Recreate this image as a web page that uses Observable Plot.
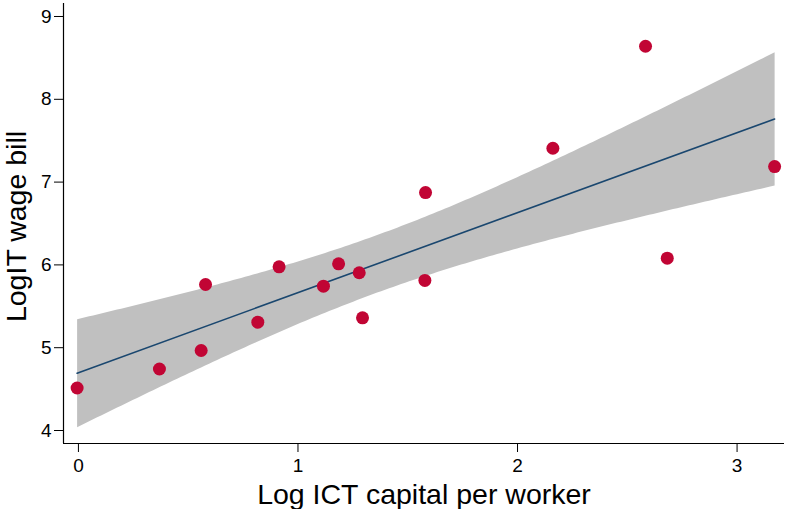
<!DOCTYPE html>
<html>
<head>
<meta charset="utf-8">
<script src="https://cdn.jsdelivr.net/npm/d3@7"></script>
<script src="https://cdn.jsdelivr.net/npm/@observablehq/plot@0.6"></script>
<style>
  html, body { margin: 0; padding: 0; background: #fff; }
  #chart { width: 786px; height: 509px; }
</style>
</head>
<body>
<div id="chart"></div>
<script>
// Data
const ictCapital = [-0.006, 0.369, 0.559, 0.579, 0.817, 0.914, 1.116, 1.185, 1.279, 1.294, 1.578, 1.581, 2.161, 2.583, 2.682, 3.171];
const itWageBill = [4.513, 4.743, 4.966, 5.763, 5.308, 5.977, 5.743, 6.013, 5.905, 5.361, 5.812, 6.874, 7.409, 8.641, 6.081, 7.188];
const xTicks = [0, 1, 2, 3];
const yTicks = [4, 5, 6, 7, 8, 9];
const xDomain = [-0.068, 3.216];
const yDomain = [3.843, 9.157];
const xTitle = "Log ICT capital per worker";
const yTitle = "LogIT wage bill";

const data = ictCapital.map((x, i) => ({x, y: itWageBill[i]}));
const font = "Liberation Sans, Arial, Helvetica, sans-serif";

const chart = Plot.plot({
  width: 786,
  height: 509,
  marginLeft: 63,
  marginRight: 2,
  marginTop: 3,
  marginBottom: 66,
  style: {fontFamily: font, fontSize: "19px", color: "#000", background: "#fff"},
  x: {domain: xDomain},
  y: {domain: yDomain},
  marks: [
    Plot.linearRegressionY(data, {x: "x", y: "y", ci: 0.95, fill: "#c0c0c0", fillOpacity: 1, stroke: "#1a476f", strokeWidth: 1.6}),
    Plot.dot(data, {x: "x", y: "y", r: 6.5, fill: "#c10534", stroke: "none"}),
    Plot.ruleX([xDomain[0]], {stroke: "#000", strokeWidth: 1.2}),
    Plot.ruleY([yDomain[0]], {stroke: "#000", strokeWidth: 1.2}),
    Plot.axisX({ticks: xTicks, tickSize: 9, tickPadding: 6, tickFormat: d => String(d), label: null, fontSize: 19, stroke: "#000"}),
    Plot.axisY({ticks: yTicks, tickSize: 9, tickPadding: 3, tickFormat: d => String(d), label: null, fontSize: 19, stroke: "#000"}),
    Plot.text([xTitle], {frameAnchor: "bottom", dy: 51, text: d => d, fontSize: 28.5, fill: "#000", lineAnchor: "middle"}),
    Plot.text([yTitle], {frameAnchor: "left", dx: -47, dy: 3, rotate: -90, text: d => d, fontSize: 28.5, fill: "#000", textAnchor: "middle", lineAnchor: "middle"})
  ]
});
document.getElementById("chart").appendChild(chart);
</script>
</body>
</html>
